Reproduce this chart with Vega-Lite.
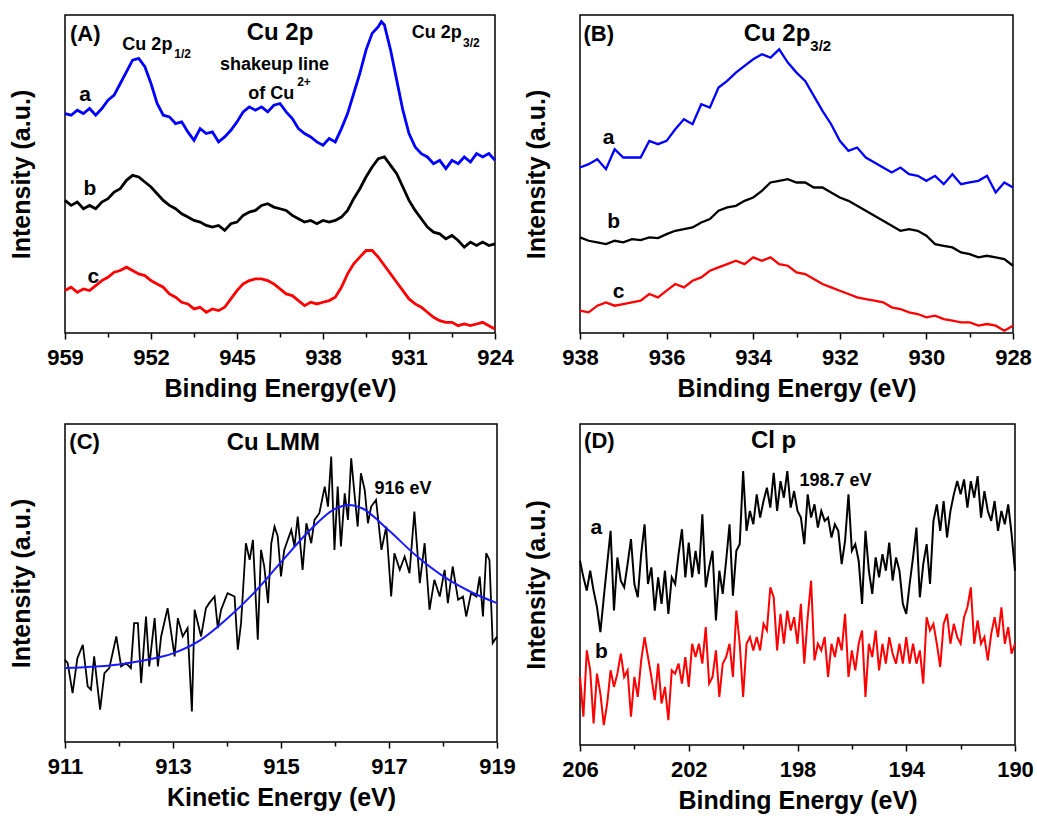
{
"$schema": "https://vega.github.io/schema/vega-lite/v6.json",
"background": "white",
"padding": {"left": 8, "top": 14, "right": 0, "bottom": 0},
"bounds": "flush",
"columns": 2,
"spacing": {"row": 91, "column": 83},
"resolve": {"scale": {"color": "independent"}},
"config": {
  "view": {"stroke": "black", "strokeWidth": 1.5},
  "axis": {"domain": false, "grid": false, "labelFont": "Liberation Sans", "labelFontWeight": "bold", "labelFontSize": 22, "labelColor": "black", "titleFont": "Liberation Sans", "titleFontWeight": "bold", "titleFontSize": 25, "titleColor": "black", "tickColor": "black", "tickWidth": 1.5},
  "axisY": {"ticks": false, "labels": false, "titlePadding": 31},
  "axisX": {"ticks": true, "labelPadding": 8, "titlePadding": 8, "labelFlush": false},
  "text": {"font": "Liberation Sans", "fontWeight": "bold", "color": "black", "baseline": "middle"}
},
"datasets": {
"A": [
{"s":"a","x":959,"y":657},{"s":"a","x":958.5,"y":652},{"s":"a","x":958,"y":667},{"s":"a","x":957.5,"y":657},{"s":"a","x":957,"y":672},{"s":"a","x":956.5,"y":652},{"s":"a","x":956,"y":672},{"s":"a","x":955.5,"y":697},{"s":"a","x":955,"y":712},{"s":"a","x":954.5,"y":747},{"s":"a","x":954,"y":782},{"s":"a","x":953.5,"y":817},{"s":"a","x":953,"y":822},{"s":"a","x":952.5,"y":797},{"s":"a","x":952,"y":747},{"s":"a","x":951.5,"y":687},{"s":"a","x":951,"y":652},{"s":"a","x":950.5,"y":647},{"s":"a","x":950,"y":627},{"s":"a","x":949.5,"y":632},{"s":"a","x":949,"y":602},{"s":"a","x":948.5,"y":577},{"s":"a","x":948,"y":612},{"s":"a","x":947.5,"y":597},{"s":"a","x":947,"y":602},{"s":"a","x":946.5,"y":572},{"s":"a","x":946,"y":587},{"s":"a","x":945.5,"y":607},{"s":"a","x":945,"y":632},{"s":"a","x":944.5,"y":662},{"s":"a","x":944,"y":677},{"s":"a","x":943.5,"y":667},{"s":"a","x":943,"y":677},{"s":"a","x":942.5,"y":662},{"s":"a","x":942,"y":682},{"s":"a","x":941.5,"y":687},{"s":"a","x":941,"y":662},{"s":"a","x":940.5,"y":642},{"s":"a","x":940,"y":612},{"s":"a","x":939.5,"y":597},{"s":"a","x":939,"y":587},{"s":"a","x":938.5,"y":572},{"s":"a","x":938,"y":562},{"s":"a","x":937.5,"y":582},{"s":"a","x":937,"y":572},{"s":"a","x":936.5,"y":612},{"s":"a","x":936,"y":657},{"s":"a","x":935.5,"y":717},{"s":"a","x":935,"y":777},{"s":"a","x":934.5,"y":847},{"s":"a","x":934,"y":897},{"s":"a","x":933.5,"y":917},{"s":"a","x":933.25,"y":932},{"s":"a","x":933,"y":922},{"s":"a","x":932.5,"y":847},{"s":"a","x":932,"y":757},{"s":"a","x":931.5,"y":667},{"s":"a","x":931,"y":597},{"s":"a","x":930.5,"y":557},{"s":"a","x":930,"y":537},{"s":"a","x":929.5,"y":527},{"s":"a","x":929,"y":507},{"s":"a","x":928.5,"y":517},{"s":"a","x":928,"y":492},{"s":"a","x":927.5,"y":517},{"s":"a","x":927,"y":507},{"s":"a","x":926.5,"y":527},{"s":"a","x":926,"y":512},{"s":"a","x":925.5,"y":537},{"s":"a","x":925,"y":527},{"s":"a","x":924.5,"y":537},{"s":"a","x":924,"y":517},
{"s":"b","x":959,"y":397},{"s":"b","x":958.5,"y":382},{"s":"b","x":958,"y":392},{"s":"b","x":957.5,"y":372},{"s":"b","x":957,"y":382},{"s":"b","x":956.5,"y":372},{"s":"b","x":956,"y":392},{"s":"b","x":955.5,"y":402},{"s":"b","x":955,"y":422},{"s":"b","x":954.5,"y":432},{"s":"b","x":954,"y":457},{"s":"b","x":953.5,"y":472},{"s":"b","x":953,"y":467},{"s":"b","x":952.5,"y":452},{"s":"b","x":952,"y":437},{"s":"b","x":951.5,"y":417},{"s":"b","x":951,"y":397},{"s":"b","x":950.5,"y":382},{"s":"b","x":950,"y":372},{"s":"b","x":949.5,"y":357},{"s":"b","x":949,"y":347},{"s":"b","x":948.5,"y":337},{"s":"b","x":948,"y":332},{"s":"b","x":947.5,"y":322},{"s":"b","x":947,"y":317},{"s":"b","x":946.5,"y":322},{"s":"b","x":946,"y":307},{"s":"b","x":945.5,"y":327},{"s":"b","x":945,"y":332},{"s":"b","x":944.5,"y":352},{"s":"b","x":944,"y":362},{"s":"b","x":943.5,"y":367},{"s":"b","x":943,"y":382},{"s":"b","x":942.5,"y":387},{"s":"b","x":942,"y":377},{"s":"b","x":941.5,"y":372},{"s":"b","x":941,"y":367},{"s":"b","x":940.5,"y":352},{"s":"b","x":940,"y":342},{"s":"b","x":939.5,"y":332},{"s":"b","x":939,"y":337},{"s":"b","x":938.5,"y":327},{"s":"b","x":938,"y":337},{"s":"b","x":937.5,"y":332},{"s":"b","x":937,"y":337},{"s":"b","x":936.5,"y":347},{"s":"b","x":936,"y":367},{"s":"b","x":935.5,"y":402},{"s":"b","x":935,"y":432},{"s":"b","x":934.5,"y":467},{"s":"b","x":934,"y":497},{"s":"b","x":933.5,"y":522},{"s":"b","x":933,"y":527},{"s":"b","x":932.5,"y":502},{"s":"b","x":932,"y":477},{"s":"b","x":931.5,"y":437},{"s":"b","x":931,"y":397},{"s":"b","x":930.5,"y":367},{"s":"b","x":930,"y":342},{"s":"b","x":929.5,"y":317},{"s":"b","x":929,"y":302},{"s":"b","x":928.5,"y":297},{"s":"b","x":928,"y":282},{"s":"b","x":927.5,"y":292},{"s":"b","x":927,"y":277},{"s":"b","x":926.5,"y":257},{"s":"b","x":926,"y":272},{"s":"b","x":925.5,"y":262},{"s":"b","x":925,"y":272},{"s":"b","x":924.5,"y":262},{"s":"b","x":924,"y":267},
{"s":"c","x":959,"y":127},{"s":"c","x":958.5,"y":137},{"s":"c","x":958,"y":122},{"s":"c","x":957.5,"y":132},{"s":"c","x":957,"y":127},{"s":"c","x":956.5,"y":142},{"s":"c","x":956,"y":157},{"s":"c","x":955.5,"y":167},{"s":"c","x":955,"y":182},{"s":"c","x":954.5,"y":187},{"s":"c","x":954,"y":197},{"s":"c","x":953.5,"y":187},{"s":"c","x":953,"y":177},{"s":"c","x":952.5,"y":172},{"s":"c","x":952,"y":157},{"s":"c","x":951.5,"y":147},{"s":"c","x":951,"y":137},{"s":"c","x":950.5,"y":117},{"s":"c","x":950,"y":107},{"s":"c","x":949.5,"y":92},{"s":"c","x":949,"y":87},{"s":"c","x":948.5,"y":72},{"s":"c","x":948,"y":77},{"s":"c","x":947.5,"y":62},{"s":"c","x":947,"y":72},{"s":"c","x":946.5,"y":67},{"s":"c","x":946,"y":77},{"s":"c","x":945.5,"y":102},{"s":"c","x":945,"y":127},{"s":"c","x":944.5,"y":147},{"s":"c","x":944,"y":157},{"s":"c","x":943.5,"y":162},{"s":"c","x":943,"y":162},{"s":"c","x":942.5,"y":157},{"s":"c","x":942,"y":147},{"s":"c","x":941.5,"y":132},{"s":"c","x":941,"y":117},{"s":"c","x":940.5,"y":112},{"s":"c","x":940,"y":97},{"s":"c","x":939.5,"y":82},{"s":"c","x":939,"y":92},{"s":"c","x":938.5,"y":87},{"s":"c","x":938,"y":92},{"s":"c","x":937.5,"y":97},{"s":"c","x":937,"y":107},{"s":"c","x":936.5,"y":137},{"s":"c","x":936,"y":177},{"s":"c","x":935.5,"y":207},{"s":"c","x":935,"y":227},{"s":"c","x":934.5,"y":247},{"s":"c","x":934,"y":247},{"s":"c","x":933.5,"y":227},{"s":"c","x":933,"y":202},{"s":"c","x":932.5,"y":177},{"s":"c","x":932,"y":152},{"s":"c","x":931.5,"y":127},{"s":"c","x":931,"y":102},{"s":"c","x":930.5,"y":87},{"s":"c","x":930,"y":77},{"s":"c","x":929.5,"y":62},{"s":"c","x":929,"y":47},{"s":"c","x":928.5,"y":37},{"s":"c","x":928,"y":32},{"s":"c","x":927.5,"y":32},{"s":"c","x":927,"y":22},{"s":"c","x":926.5,"y":27},{"s":"c","x":926,"y":22},{"s":"c","x":925.5,"y":27},{"s":"c","x":925,"y":32},{"s":"c","x":924.5,"y":22},{"s":"c","x":924,"y":12}
],
"At": [
{"r":"panel","x":958.6,"y":894,"t":"(A)"},
{"r":"title","x":941.5,"y":897,"t":"Cu 2p"},
{"r":"note","x":954.33,"y":862,"t":"Cu 2p"},
{"r":"note","x":946.38,"y":802,"t":"shakeup line"},
{"r":"note","x":944.08,"y":715,"t":"of Cu"},
{"r":"note","x":930.78,"y":897,"t":"Cu 2p"},
{"r":"sub","x":950.1,"y":835,"t":"1/2"},
{"r":"sub","x":940.1,"y":752,"t":"2+"},
{"r":"sub","x":926.6,"y":867,"t":"3/2"},
{"r":"curve","x":957.37,"y":712,"t":"a"},
{"r":"curve","x":956.97,"y":432,"t":"b"},
{"r":"curve","x":956.69,"y":167,"t":"c"}
],
"B": [
{"s":"a","x":938,"y":497},{"s":"a","x":937.8,"y":507},{"s":"a","x":937.6,"y":522},{"s":"a","x":937.4,"y":492},{"s":"a","x":937.2,"y":552},{"s":"a","x":937,"y":527},{"s":"a","x":936.8,"y":527},{"s":"a","x":936.6,"y":527},{"s":"a","x":936.4,"y":577},{"s":"a","x":936.2,"y":567},{"s":"a","x":936,"y":577},{"s":"a","x":935.8,"y":612},{"s":"a","x":935.6,"y":642},{"s":"a","x":935.4,"y":627},{"s":"a","x":935.2,"y":687},{"s":"a","x":935,"y":677},{"s":"a","x":934.8,"y":737},{"s":"a","x":934.6,"y":757},{"s":"a","x":934.4,"y":782},{"s":"a","x":934.2,"y":802},{"s":"a","x":934,"y":822},{"s":"a","x":933.8,"y":837},{"s":"a","x":933.6,"y":827},{"s":"a","x":933.4,"y":852},{"s":"a","x":933.2,"y":812},{"s":"a","x":933,"y":782},{"s":"a","x":932.8,"y":757},{"s":"a","x":932.6,"y":712},{"s":"a","x":932.4,"y":667},{"s":"a","x":932.2,"y":627},{"s":"a","x":932,"y":577},{"s":"a","x":931.8,"y":547},{"s":"a","x":931.6,"y":557},{"s":"a","x":931.4,"y":527},{"s":"a","x":931.2,"y":512},{"s":"a","x":931,"y":497},{"s":"a","x":930.8,"y":482},{"s":"a","x":930.6,"y":497},{"s":"a","x":930.4,"y":477},{"s":"a","x":930.2,"y":472},{"s":"a","x":930,"y":457},{"s":"a","x":929.8,"y":472},{"s":"a","x":929.6,"y":447},{"s":"a","x":929.4,"y":477},{"s":"a","x":929.2,"y":447},{"s":"a","x":929,"y":452},{"s":"a","x":928.8,"y":457},{"s":"a","x":928.6,"y":472},{"s":"a","x":928.4,"y":422},{"s":"a","x":928.2,"y":452},{"s":"a","x":928,"y":437},
{"s":"b","x":938,"y":287},{"s":"b","x":937.8,"y":277},{"s":"b","x":937.6,"y":272},{"s":"b","x":937.4,"y":267},{"s":"b","x":937.2,"y":277},{"s":"b","x":937,"y":272},{"s":"b","x":936.8,"y":282},{"s":"b","x":936.6,"y":279},{"s":"b","x":936.4,"y":287},{"s":"b","x":936.2,"y":285},{"s":"b","x":936,"y":297},{"s":"b","x":935.8,"y":307},{"s":"b","x":935.6,"y":312},{"s":"b","x":935.4,"y":317},{"s":"b","x":935.2,"y":332},{"s":"b","x":935,"y":342},{"s":"b","x":934.8,"y":367},{"s":"b","x":934.6,"y":377},{"s":"b","x":934.4,"y":382},{"s":"b","x":934.2,"y":397},{"s":"b","x":934,"y":407},{"s":"b","x":933.8,"y":427},{"s":"b","x":933.6,"y":452},{"s":"b","x":933.4,"y":457},{"s":"b","x":933.2,"y":462},{"s":"b","x":933,"y":452},{"s":"b","x":932.8,"y":452},{"s":"b","x":932.6,"y":437},{"s":"b","x":932.4,"y":437},{"s":"b","x":932.2,"y":422},{"s":"b","x":932,"y":407},{"s":"b","x":931.8,"y":397},{"s":"b","x":931.6,"y":382},{"s":"b","x":931.4,"y":367},{"s":"b","x":931.2,"y":352},{"s":"b","x":931,"y":337},{"s":"b","x":930.8,"y":322},{"s":"b","x":930.6,"y":307},{"s":"b","x":930.4,"y":312},{"s":"b","x":930.2,"y":307},{"s":"b","x":930,"y":292},{"s":"b","x":929.8,"y":267},{"s":"b","x":929.6,"y":262},{"s":"b","x":929.4,"y":257},{"s":"b","x":929.2,"y":242},{"s":"b","x":929,"y":237},{"s":"b","x":928.8,"y":227},{"s":"b","x":928.6,"y":232},{"s":"b","x":928.4,"y":227},{"s":"b","x":928.2,"y":222},{"s":"b","x":928,"y":202},
{"s":"c","x":938,"y":67},{"s":"c","x":937.8,"y":62},{"s":"c","x":937.6,"y":82},{"s":"c","x":937.4,"y":92},{"s":"c","x":937.2,"y":82},{"s":"c","x":937,"y":87},{"s":"c","x":936.8,"y":92},{"s":"c","x":936.6,"y":97},{"s":"c","x":936.4,"y":117},{"s":"c","x":936.2,"y":107},{"s":"c","x":936,"y":127},{"s":"c","x":935.8,"y":147},{"s":"c","x":935.6,"y":137},{"s":"c","x":935.4,"y":157},{"s":"c","x":935.2,"y":167},{"s":"c","x":935,"y":187},{"s":"c","x":934.8,"y":197},{"s":"c","x":934.6,"y":207},{"s":"c","x":934.4,"y":217},{"s":"c","x":934.2,"y":207},{"s":"c","x":934,"y":227},{"s":"c","x":933.8,"y":217},{"s":"c","x":933.6,"y":227},{"s":"c","x":933.4,"y":207},{"s":"c","x":933.2,"y":202},{"s":"c","x":933,"y":182},{"s":"c","x":932.8,"y":177},{"s":"c","x":932.6,"y":162},{"s":"c","x":932.4,"y":147},{"s":"c","x":932.2,"y":137},{"s":"c","x":932,"y":127},{"s":"c","x":931.8,"y":117},{"s":"c","x":931.6,"y":107},{"s":"c","x":931.4,"y":102},{"s":"c","x":931.2,"y":97},{"s":"c","x":931,"y":92},{"s":"c","x":930.8,"y":77},{"s":"c","x":930.6,"y":72},{"s":"c","x":930.4,"y":62},{"s":"c","x":930.2,"y":57},{"s":"c","x":930,"y":47},{"s":"c","x":929.8,"y":52},{"s":"c","x":929.6,"y":42},{"s":"c","x":929.4,"y":37},{"s":"c","x":929.2,"y":32},{"s":"c","x":929,"y":32},{"s":"c","x":928.8,"y":22},{"s":"c","x":928.6,"y":27},{"s":"c","x":928.4,"y":22},{"s":"c","x":928.2,"y":7},{"s":"c","x":928,"y":22}
],
"Bt": [
{"r":"panel","x":937.92,"y":897,"t":"(B)"},
{"r":"title","x":933.45,"y":897,"t":"Cu 2p"},
{"r":"bigsub","x":932.68,"y":862,"t":"3/2"},
{"r":"curve","x":937.34,"y":587,"t":"a"},
{"r":"curve","x":937.22,"y":332,"t":"b"},
{"r":"curve","x":937.11,"y":122,"t":"c"}
],
"C": [
{"s":"d","x":911.00,"y":247},{"s":"d","x":911.05,"y":237},{"s":"d","x":911.14,"y":147},{"s":"d","x":911.23,"y":252},{"s":"d","x":911.33,"y":292},{"s":"d","x":911.42,"y":167},{"s":"d","x":911.48,"y":157},{"s":"d","x":911.54,"y":257},{"s":"d","x":911.65,"y":97},{"s":"d","x":911.73,"y":207},{"s":"d","x":911.82,"y":222},{"s":"d","x":911.95,"y":317},{"s":"d","x":912.04,"y":227},{"s":"d","x":912.13,"y":237},{"s":"d","x":912.22,"y":222},{"s":"d","x":912.28,"y":357},{"s":"d","x":912.35,"y":357},{"s":"d","x":912.41,"y":177},{"s":"d","x":912.50,"y":377},{"s":"d","x":912.56,"y":227},{"s":"d","x":912.66,"y":372},{"s":"d","x":912.72,"y":227},{"s":"d","x":912.78,"y":317},{"s":"d","x":912.90,"y":402},{"s":"d","x":913.03,"y":257},{"s":"d","x":913.09,"y":372},{"s":"d","x":913.18,"y":317},{"s":"d","x":913.27,"y":342},{"s":"d","x":913.35,"y":92},{"s":"d","x":913.40,"y":397},{"s":"d","x":913.52,"y":317},{"s":"d","x":913.61,"y":402},{"s":"d","x":913.67,"y":417},{"s":"d","x":913.77,"y":437},{"s":"d","x":913.83,"y":342},{"s":"d","x":913.89,"y":397},{"s":"d","x":914.01,"y":447},{"s":"d","x":914.14,"y":437},{"s":"d","x":914.20,"y":277},{"s":"d","x":914.26,"y":357},{"s":"d","x":914.35,"y":597},{"s":"d","x":914.42,"y":547},{"s":"d","x":914.48,"y":607},{"s":"d","x":914.57,"y":307},{"s":"d","x":914.63,"y":577},{"s":"d","x":914.69,"y":527},{"s":"d","x":914.76,"y":417},{"s":"d","x":914.82,"y":597},{"s":"d","x":914.88,"y":647},{"s":"d","x":914.94,"y":617},{"s":"d","x":915.00,"y":497},{"s":"d","x":915.06,"y":577},{"s":"d","x":915.19,"y":637},{"s":"d","x":915.25,"y":587},{"s":"d","x":915.31,"y":677},{"s":"d","x":915.40,"y":517},{"s":"d","x":915.47,"y":657},{"s":"d","x":915.56,"y":597},{"s":"d","x":915.62,"y":667},{"s":"d","x":915.71,"y":687},{"s":"d","x":915.81,"y":767},{"s":"d","x":915.87,"y":707},{"s":"d","x":915.93,"y":857},{"s":"d","x":915.99,"y":577},{"s":"d","x":916.05,"y":767},{"s":"d","x":916.11,"y":587},{"s":"d","x":916.18,"y":747},{"s":"d","x":916.24,"y":667},{"s":"d","x":916.30,"y":852},{"s":"d","x":916.36,"y":747},{"s":"d","x":916.42,"y":647},{"s":"d","x":916.48,"y":807},{"s":"d","x":916.55,"y":757},{"s":"d","x":916.61,"y":657},{"s":"d","x":916.67,"y":707},{"s":"d","x":916.76,"y":727},{"s":"d","x":916.86,"y":577},{"s":"d","x":916.95,"y":647},{"s":"d","x":917.04,"y":437},{"s":"d","x":917.10,"y":567},{"s":"d","x":917.20,"y":517},{"s":"d","x":917.29,"y":557},{"s":"d","x":917.38,"y":507},{"s":"d","x":917.47,"y":692},{"s":"d","x":917.57,"y":477},{"s":"d","x":917.66,"y":597},{"s":"d","x":917.75,"y":397},{"s":"d","x":917.84,"y":487},{"s":"d","x":917.94,"y":437},{"s":"d","x":918.03,"y":517},{"s":"d","x":918.09,"y":417},{"s":"d","x":918.18,"y":527},{"s":"d","x":918.28,"y":427},{"s":"d","x":918.37,"y":437},{"s":"d","x":918.43,"y":377},{"s":"d","x":918.52,"y":447},{"s":"d","x":918.62,"y":437},{"s":"d","x":918.68,"y":497},{"s":"d","x":918.74,"y":377},{"s":"d","x":918.80,"y":567},{"s":"d","x":918.86,"y":547},{"s":"d","x":918.92,"y":297},{"s":"d","x":919.00,"y":317},
{"s":"f","x":911,"y":222},{"s":"f","x":911.5,"y":226},{"s":"f","x":912,"y":233},{"s":"f","x":912.5,"y":246},{"s":"f","x":913,"y":266},{"s":"f","x":913.5,"y":305},{"s":"f","x":914,"y":370},{"s":"f","x":914.5,"y":448},{"s":"f","x":915,"y":540},{"s":"f","x":915.5,"y":630},{"s":"f","x":916,"y":700},{"s":"f","x":916.25,"y":712},{"s":"f","x":916.5,"y":702},{"s":"f","x":917,"y":635},{"s":"f","x":917.5,"y":560},{"s":"f","x":918,"y":498},{"s":"f","x":918.5,"y":452},{"s":"f","x":919,"y":417}
],
"Ct": [
{"r":"panel","x":911.08,"y":902,"t":"(C)"},
{"r":"title","x":914.86,"y":897,"t":"Cu LMM"},
{"r":"note","x":916.73,"y":759,"t":"916 eV"}
],
"D": [
{"s":"a","x":206,"y":555},{"s":"a","x":205.875,"y":505},{"s":"a","x":205.75,"y":465},{"s":"a","x":205.625,"y":525},{"s":"a","x":205.5,"y":465},{"s":"a","x":205.375,"y":415},{"s":"a","x":205.25,"y":340},{"s":"a","x":205.125,"y":445},{"s":"a","x":205,"y":545},{"s":"a","x":204.875,"y":645},{"s":"a","x":204.75,"y":405},{"s":"a","x":204.625,"y":565},{"s":"a","x":204.5,"y":495},{"s":"a","x":204.375,"y":475},{"s":"a","x":204.25,"y":545},{"s":"a","x":204.125,"y":620},{"s":"a","x":204,"y":485},{"s":"a","x":203.875,"y":445},{"s":"a","x":203.75,"y":575},{"s":"a","x":203.625,"y":665},{"s":"a","x":203.5,"y":485},{"s":"a","x":203.375,"y":535},{"s":"a","x":203.25,"y":405},{"s":"a","x":203.125,"y":505},{"s":"a","x":203,"y":425},{"s":"a","x":202.875,"y":525},{"s":"a","x":202.75,"y":395},{"s":"a","x":202.625,"y":505},{"s":"a","x":202.5,"y":485},{"s":"a","x":202.375,"y":575},{"s":"a","x":202.25,"y":650},{"s":"a","x":202.125,"y":505},{"s":"a","x":202,"y":610},{"s":"a","x":201.875,"y":505},{"s":"a","x":201.75,"y":585},{"s":"a","x":201.625,"y":515},{"s":"a","x":201.5,"y":695},{"s":"a","x":201.375,"y":475},{"s":"a","x":201.25,"y":535},{"s":"a","x":201.125,"y":585},{"s":"a","x":201,"y":375},{"s":"a","x":200.875,"y":525},{"s":"a","x":200.75,"y":455},{"s":"a","x":200.625,"y":555},{"s":"a","x":200.5,"y":665},{"s":"a","x":200.375,"y":450},{"s":"a","x":200.25,"y":585},{"s":"a","x":200.125,"y":605},{"s":"a","x":200,"y":825},{"s":"a","x":199.875,"y":645},{"s":"a","x":199.75,"y":705},{"s":"a","x":199.625,"y":665},{"s":"a","x":199.5,"y":755},{"s":"a","x":199.375,"y":685},{"s":"a","x":199.25,"y":735},{"s":"a","x":199.125,"y":775},{"s":"a","x":199,"y":715},{"s":"a","x":198.875,"y":820},{"s":"a","x":198.75,"y":705},{"s":"a","x":198.625,"y":795},{"s":"a","x":198.5,"y":745},{"s":"a","x":198.375,"y":825},{"s":"a","x":198.25,"y":715},{"s":"a","x":198.125,"y":765},{"s":"a","x":198,"y":705},{"s":"a","x":197.875,"y":685},{"s":"a","x":197.75,"y":605},{"s":"a","x":197.625,"y":755},{"s":"a","x":197.5,"y":685},{"s":"a","x":197.375,"y":725},{"s":"a","x":197.25,"y":655},{"s":"a","x":197.125,"y":705},{"s":"a","x":197,"y":675},{"s":"a","x":196.875,"y":685},{"s":"a","x":196.75,"y":625},{"s":"a","x":196.625,"y":665},{"s":"a","x":196.5,"y":645},{"s":"a","x":196.375,"y":545},{"s":"a","x":196.25,"y":615},{"s":"a","x":196.125,"y":755},{"s":"a","x":196,"y":585},{"s":"a","x":195.875,"y":605},{"s":"a","x":195.75,"y":555},{"s":"a","x":195.625,"y":425},{"s":"a","x":195.5,"y":645},{"s":"a","x":195.375,"y":525},{"s":"a","x":195.25,"y":455},{"s":"a","x":195.125,"y":565},{"s":"a","x":195,"y":505},{"s":"a","x":194.875,"y":575},{"s":"a","x":194.75,"y":525},{"s":"a","x":194.625,"y":610},{"s":"a","x":194.5,"y":495},{"s":"a","x":194.375,"y":565},{"s":"a","x":194.25,"y":525},{"s":"a","x":194.125,"y":425},{"s":"a","x":194,"y":395},{"s":"a","x":193.875,"y":485},{"s":"a","x":193.75,"y":565},{"s":"a","x":193.625,"y":655},{"s":"a","x":193.5,"y":445},{"s":"a","x":193.375,"y":545},{"s":"a","x":193.25,"y":605},{"s":"a","x":193.125,"y":485},{"s":"a","x":193,"y":675},{"s":"a","x":192.875,"y":725},{"s":"a","x":192.75,"y":645},{"s":"a","x":192.625,"y":735},{"s":"a","x":192.5,"y":625},{"s":"a","x":192.375,"y":705},{"s":"a","x":192.25,"y":755},{"s":"a","x":192.125,"y":795},{"s":"a","x":192,"y":755},{"s":"a","x":191.875,"y":800},{"s":"a","x":191.75,"y":715},{"s":"a","x":191.625,"y":795},{"s":"a","x":191.5,"y":745},{"s":"a","x":191.375,"y":810},{"s":"a","x":191.25,"y":685},{"s":"a","x":191.125,"y":765},{"s":"a","x":191,"y":705},{"s":"a","x":190.875,"y":675},{"s":"a","x":190.75,"y":735},{"s":"a","x":190.625,"y":645},{"s":"a","x":190.5,"y":705},{"s":"a","x":190.375,"y":665},{"s":"a","x":190.25,"y":725},{"s":"a","x":190.125,"y":635},{"s":"a","x":190,"y":525},
{"s":"b","x":206,"y":205},{"s":"b","x":205.875,"y":85},{"s":"b","x":205.75,"y":285},{"s":"b","x":205.625,"y":225},{"s":"b","x":205.5,"y":65},{"s":"b","x":205.375,"y":215},{"s":"b","x":205.25,"y":155},{"s":"b","x":205.125,"y":60},{"s":"b","x":205,"y":125},{"s":"b","x":204.875,"y":225},{"s":"b","x":204.75,"y":175},{"s":"b","x":204.625,"y":215},{"s":"b","x":204.5,"y":275},{"s":"b","x":204.375,"y":205},{"s":"b","x":204.25,"y":225},{"s":"b","x":204.125,"y":85},{"s":"b","x":204,"y":205},{"s":"b","x":203.875,"y":145},{"s":"b","x":203.75,"y":255},{"s":"b","x":203.625,"y":325},{"s":"b","x":203.5,"y":265},{"s":"b","x":203.375,"y":205},{"s":"b","x":203.25,"y":135},{"s":"b","x":203.125,"y":245},{"s":"b","x":203,"y":125},{"s":"b","x":202.875,"y":175},{"s":"b","x":202.75,"y":75},{"s":"b","x":202.625,"y":225},{"s":"b","x":202.5,"y":215},{"s":"b","x":202.375,"y":245},{"s":"b","x":202.25,"y":185},{"s":"b","x":202.125,"y":265},{"s":"b","x":202,"y":175},{"s":"b","x":201.875,"y":305},{"s":"b","x":201.75,"y":265},{"s":"b","x":201.625,"y":305},{"s":"b","x":201.5,"y":245},{"s":"b","x":201.375,"y":355},{"s":"b","x":201.25,"y":185},{"s":"b","x":201.125,"y":205},{"s":"b","x":201,"y":285},{"s":"b","x":200.875,"y":145},{"s":"b","x":200.75,"y":245},{"s":"b","x":200.625,"y":265},{"s":"b","x":200.5,"y":305},{"s":"b","x":200.375,"y":205},{"s":"b","x":200.25,"y":405},{"s":"b","x":200.125,"y":305},{"s":"b","x":200,"y":145},{"s":"b","x":199.875,"y":305},{"s":"b","x":199.75,"y":325},{"s":"b","x":199.625,"y":285},{"s":"b","x":199.5,"y":325},{"s":"b","x":199.375,"y":285},{"s":"b","x":199.25,"y":365},{"s":"b","x":199.125,"y":345},{"s":"b","x":199,"y":475},{"s":"b","x":198.875,"y":445},{"s":"b","x":198.75,"y":285},{"s":"b","x":198.625,"y":395},{"s":"b","x":198.5,"y":305},{"s":"b","x":198.375,"y":405},{"s":"b","x":198.25,"y":345},{"s":"b","x":198.125,"y":385},{"s":"b","x":198,"y":305},{"s":"b","x":197.875,"y":425},{"s":"b","x":197.75,"y":245},{"s":"b","x":197.625,"y":385},{"s":"b","x":197.5,"y":495},{"s":"b","x":197.375,"y":255},{"s":"b","x":197.25,"y":305},{"s":"b","x":197.125,"y":285},{"s":"b","x":197,"y":325},{"s":"b","x":196.875,"y":205},{"s":"b","x":196.75,"y":305},{"s":"b","x":196.625,"y":265},{"s":"b","x":196.5,"y":325},{"s":"b","x":196.375,"y":285},{"s":"b","x":196.25,"y":395},{"s":"b","x":196.125,"y":205},{"s":"b","x":196,"y":285},{"s":"b","x":195.875,"y":225},{"s":"b","x":195.75,"y":305},{"s":"b","x":195.625,"y":345},{"s":"b","x":195.5,"y":145},{"s":"b","x":195.375,"y":305},{"s":"b","x":195.25,"y":265},{"s":"b","x":195.125,"y":345},{"s":"b","x":195,"y":225},{"s":"b","x":194.875,"y":305},{"s":"b","x":194.75,"y":245},{"s":"b","x":194.625,"y":325},{"s":"b","x":194.5,"y":275},{"s":"b","x":194.375,"y":245},{"s":"b","x":194.25,"y":305},{"s":"b","x":194.125,"y":245},{"s":"b","x":194,"y":325},{"s":"b","x":193.875,"y":245},{"s":"b","x":193.75,"y":305},{"s":"b","x":193.625,"y":245},{"s":"b","x":193.5,"y":285},{"s":"b","x":193.375,"y":185},{"s":"b","x":193.25,"y":385},{"s":"b","x":193.125,"y":345},{"s":"b","x":193,"y":365},{"s":"b","x":192.875,"y":305},{"s":"b","x":192.75,"y":235},{"s":"b","x":192.625,"y":365},{"s":"b","x":192.5,"y":395},{"s":"b","x":192.375,"y":305},{"s":"b","x":192.25,"y":365},{"s":"b","x":192.125,"y":325},{"s":"b","x":192,"y":305},{"s":"b","x":191.875,"y":385},{"s":"b","x":191.75,"y":415},{"s":"b","x":191.625,"y":475},{"s":"b","x":191.5,"y":305},{"s":"b","x":191.375,"y":375},{"s":"b","x":191.25,"y":305},{"s":"b","x":191.125,"y":325},{"s":"b","x":191,"y":255},{"s":"b","x":190.875,"y":335},{"s":"b","x":190.75,"y":385},{"s":"b","x":190.625,"y":325},{"s":"b","x":190.5,"y":415},{"s":"b","x":190.375,"y":305},{"s":"b","x":190.25,"y":355},{"s":"b","x":190.125,"y":275},{"s":"b","x":190,"y":305}
],
"Dt": [
{"r":"panel","x":205.85,"y":915,"t":"(D)"},
{"r":"title","x":198.88,"y":915,"t":"Cl p"},
{"r":"note","x":197.93,"y":795,"t":"198.7 eV"},
{"r":"curve","x":205.40,"y":655,"t":"a"},
{"r":"curve","x":205.21,"y":280,"t":"b"}
]
},
"concat": [
{
  "width": 430, "height": 318,
  "encoding": {
    "x": {"field": "x", "type": "quantitative", "scale": {"domain": [959, 924], "nice": false, "zero": false},
          "axis": {"title": "Binding Energy(eV)", "values": [959, 955.5, 952, 948.5, 945, 941.5, 938, 934.5, 931, 927.5, 924], "labelExpr": "datum.value % 7 == 0 ? datum.label : ''", "tickSize": {"condition": {"test": "datum.value % 7 == 0", "value": 6}, "value": 4}}},
    "y": {"field": "y", "type": "quantitative", "scale": {"domain": [0, 952], "nice": false, "zero": false}, "axis": {"title": "Intensity (a.u.)"}}
  },
  "layer": [
    {"data": {"name": "A"}, "mark": {"type": "line", "strokeWidth": 2.8}, "encoding": {"color": {"field": "s", "type": "nominal", "scale": {"domain": ["a", "b", "c"], "range": ["#0000ff", "#000000", "#ff0000"]}, "legend": null}}},
    {"data": {"name": "At"}, "transform": [{"filter": "datum.r == 'panel'"}], "mark": {"type": "text", "align": "left", "fontSize": 22}, "encoding": {"text": {"field": "t"}}},
    {"data": {"name": "At"}, "transform": [{"filter": "datum.r == 'title'"}], "mark": {"type": "text", "align": "center", "fontSize": 24}, "encoding": {"text": {"field": "t"}}},
    {"data": {"name": "At"}, "transform": [{"filter": "datum.r == 'note'"}], "mark": {"type": "text", "align": "left", "fontSize": 18}, "encoding": {"text": {"field": "t"}}},
    {"data": {"name": "At"}, "transform": [{"filter": "datum.r == 'sub'"}], "mark": {"type": "text", "align": "left", "fontSize": 12}, "encoding": {"text": {"field": "t"}}},
    {"data": {"name": "At"}, "transform": [{"filter": "datum.r == 'curve'"}], "mark": {"type": "text", "align": "center", "fontSize": 21}, "encoding": {"text": {"field": "t"}}}
  ]
},
{
  "width": 433, "height": 318,
  "encoding": {
    "x": {"field": "x", "type": "quantitative", "scale": {"domain": [938, 928], "nice": false, "zero": false},
          "axis": {"title": "Binding Energy (eV)", "values": [938, 937, 936, 935, 934, 933, 932, 931, 930, 929, 928], "labelExpr": "datum.value % 2 == 0 ? datum.label : ''", "tickSize": {"condition": {"test": "datum.value % 2 == 0", "value": 6}, "value": 4}}},
    "y": {"field": "y", "type": "quantitative", "scale": {"domain": [0, 955], "nice": false, "zero": false}, "axis": {"title": "Intensity (a.u.)"}}
  },
  "layer": [
    {"data": {"name": "B"}, "mark": {"type": "line", "strokeWidth": 2.3}, "encoding": {"color": {"field": "s", "type": "nominal", "scale": {"domain": ["a", "b", "c"], "range": ["#0000ff", "#000000", "#ff0000"]}, "legend": null}}},
    {"data": {"name": "Bt"}, "transform": [{"filter": "datum.r == 'panel'"}], "mark": {"type": "text", "align": "left", "fontSize": 22}, "encoding": {"text": {"field": "t"}}},
    {"data": {"name": "Bt"}, "transform": [{"filter": "datum.r == 'title'"}], "mark": {"type": "text", "align": "center", "fontSize": 24}, "encoding": {"text": {"field": "t"}}},
    {"data": {"name": "Bt"}, "transform": [{"filter": "datum.r == 'bigsub'"}], "mark": {"type": "text", "align": "left", "fontSize": 15}, "encoding": {"text": {"field": "t"}}},
    {"data": {"name": "Bt"}, "transform": [{"filter": "datum.r == 'curve'"}], "mark": {"type": "text", "align": "center", "fontSize": 21}, "encoding": {"text": {"field": "t"}}}
  ]
},
{
  "width": 432, "height": 318,
  "encoding": {
    "x": {"field": "x", "type": "quantitative", "scale": {"domain": [911, 919], "nice": false, "zero": false},
          "axis": {"title": "Kinetic Energy (eV)", "values": [911, 912, 913, 914, 915, 916, 917, 918, 919], "labelExpr": "datum.value % 2 == 1 ? datum.label : ''", "tickSize": {"condition": {"test": "datum.value % 2 == 1", "value": 6}, "value": 4}}},
    "y": {"field": "y", "type": "quantitative", "scale": {"domain": [0, 955], "nice": false, "zero": false}, "axis": {"title": "Intensity (a.u.)"}}
  },
  "layer": [
    {"data": {"name": "C"}, "transform": [{"filter": "datum.s == 'd'"}], "mark": {"type": "line", "strokeWidth": 1.8, "color": "#000000"}, "encoding": {}},
    {"data": {"name": "C"}, "transform": [{"filter": "datum.s == 'f'"}], "mark": {"type": "line", "strokeWidth": 2, "color": "#1a1aff", "interpolate": "monotone"}, "encoding": {}},
    {"data": {"name": "Ct"}, "transform": [{"filter": "datum.r == 'panel'"}], "mark": {"type": "text", "align": "left", "fontSize": 22}, "encoding": {"text": {"field": "t"}}},
    {"data": {"name": "Ct"}, "transform": [{"filter": "datum.r == 'title'"}], "mark": {"type": "text", "align": "center", "fontSize": 24}, "encoding": {"text": {"field": "t"}}},
    {"data": {"name": "Ct"}, "transform": [{"filter": "datum.r == 'note'"}], "mark": {"type": "text", "align": "left", "fontSize": 18}, "encoding": {"text": {"field": "t"}}}
  ]
},
{
  "width": 435, "height": 321,
  "encoding": {
    "x": {"field": "x", "type": "quantitative", "scale": {"domain": [206, 190], "nice": false, "zero": false},
          "axis": {"title": "Binding Energy (eV)", "values": [206, 204, 202, 200, 198, 196, 194, 192, 190], "labelExpr": "datum.value % 4 == 2 ? datum.label : ''", "tickSize": {"condition": {"test": "datum.value % 4 == 2", "value": 6}, "value": 4}}},
    "y": {"field": "y", "type": "quantitative", "scale": {"domain": [0, 967], "nice": false, "zero": false}, "axis": {"title": "Intensity (a.u.)"}}
  },
  "layer": [
    {"data": {"name": "D"}, "mark": {"type": "line", "strokeWidth": 2}, "encoding": {"color": {"field": "s", "type": "nominal", "scale": {"domain": ["a", "b"], "range": ["#000000", "#ff0000"]}, "legend": null}}},
    {"data": {"name": "Dt"}, "transform": [{"filter": "datum.r == 'panel'"}], "mark": {"type": "text", "align": "left", "fontSize": 22}, "encoding": {"text": {"field": "t"}}},
    {"data": {"name": "Dt"}, "transform": [{"filter": "datum.r == 'title'"}], "mark": {"type": "text", "align": "center", "fontSize": 24}, "encoding": {"text": {"field": "t"}}},
    {"data": {"name": "Dt"}, "transform": [{"filter": "datum.r == 'note'"}], "mark": {"type": "text", "align": "left", "fontSize": 18}, "encoding": {"text": {"field": "t"}}},
    {"data": {"name": "Dt"}, "transform": [{"filter": "datum.r == 'curve'"}], "mark": {"type": "text", "align": "center", "fontSize": 21}, "encoding": {"text": {"field": "t"}}}
  ]
}
]
}
